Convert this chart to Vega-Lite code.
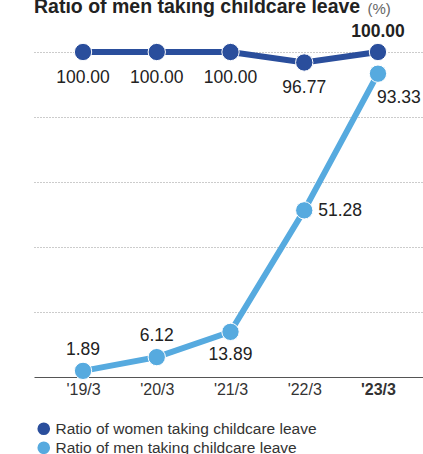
{
  "$schema": "https://vega.github.io/schema/vega-lite/v6.json",
  "autosize": "none",
  "width": 393,
  "height": 325,
  "padding": {"left": 34, "top": 52, "right": 0, "bottom": 77},
  "background": "white",
  "config": {
    "font": "Liberation Sans",
    "view": {"stroke": null}
  },
  "title": {
    "text": "Ratio of men taking childcare leave",
    "anchor": "start",
    "fontSize": 19.5,
    "fontWeight": "bold",
    "color": "#222222",
    "offset": 8,
    "dy": 24
  },
  "data": {
    "values": [
      {"year": "'19/3", "series": "Ratio of women taking childcare leave", "value": 100.00},
      {"year": "'20/3", "series": "Ratio of women taking childcare leave", "value": 100.00},
      {"year": "'21/3", "series": "Ratio of women taking childcare leave", "value": 100.00},
      {"year": "'22/3", "series": "Ratio of women taking childcare leave", "value": 96.77},
      {"year": "'23/3", "series": "Ratio of women taking childcare leave", "value": 100.00},
      {"year": "'19/3", "series": "Ratio of men taking childcare leave", "value": 1.89},
      {"year": "'20/3", "series": "Ratio of men taking childcare leave", "value": 6.12},
      {"year": "'21/3", "series": "Ratio of men taking childcare leave", "value": 13.89},
      {"year": "'22/3", "series": "Ratio of men taking childcare leave", "value": 51.28},
      {"year": "'23/3", "series": "Ratio of men taking childcare leave", "value": 93.33}
    ]
  },
  "encoding": {
    "x": {
      "field": "year",
      "type": "ordinal",
      "sort": null,
      "scale": {"type": "point", "padding": 0.665},
      "axis": {
        "title": null,
        "labelAngle": 0,
        "ticks": false,
        "domainColor": "#555555",
        "domainWidth": 1,
        "labelFontSize": 16,
        "labelColor": "#333333",
        "labelPadding": 4,
        "labelFontWeight": {"condition": {"test": "datum.value === \"'23/3\"", "value": "bold"}, "value": "normal"},
        "grid": false
      }
    },
    "y": {
      "field": "value",
      "type": "quantitative",
      "scale": {"domain": [0, 100], "nice": false},
      "axis": {
        "title": "(%)",
        "titleAngle": 0,
        "titleX": 333,
        "titleY": -39,
        "titleAlign": "left",
        "titleBaseline": "alphabetic",
        "titleFontSize": 15,
        "titleFontWeight": "normal",
        "titleColor": "#666666",
        "labels": false,
        "ticks": false,
        "domain": false,
        "grid": true,
        "values": [20, 40, 60, 80, 100],
        "gridColor": "#999999",
        "gridDash": [1, 2],
        "gridWidth": 1
      }
    },
    "color": {
      "field": "series",
      "type": "nominal",
      "scale": {
        "domain": ["Ratio of women taking childcare leave", "Ratio of men taking childcare leave"],
        "range": ["#2a4e9c", "#56aadf"]
      },
      "legend": {
        "title": null,
        "orient": "none",
        "legendX": 2,
        "legendY": 369,
        "direction": "vertical",
        "symbolType": "circle",
        "symbolSize": 160,
        "symbolStrokeWidth": 0,
        "symbolOpacity": 1,
        "labelFontSize": 15.5,
        "labelColor": "#333333",
        "labelOffset": 4,
        "labelLimit": 400,
        "rowPadding": 2,
        "padding": 0
      }
    }
  },
  "layer": [
    {
      "mark": {"type": "line", "strokeWidth": 6},
      "encoding": {"detail": {"field": "series"}}
    },
    {
      "mark": {"type": "point", "filled": true, "size": 300, "opacity": 1, "stroke": "white", "strokeWidth": 1}
    },
    {
      "transform": [{"filter": "datum.series === 'Ratio of women taking childcare leave' && datum.year !== \"'23/3\""}],
      "mark": {"type": "text", "fontSize": 17.5, "dy": 26},
      "encoding": {"text": {"field": "value", "format": ".2f"}, "color": {"value": "#222222"}}
    },
    {
      "transform": [{"filter": "datum.series === 'Ratio of women taking childcare leave' && datum.year === \"'23/3\""}],
      "mark": {"type": "text", "fontSize": 17.5, "fontWeight": "bold", "dy": -20},
      "encoding": {"text": {"field": "value", "format": ".2f"}, "color": {"value": "#222222"}}
    },
    {
      "transform": [{"filter": "datum.series === 'Ratio of men taking childcare leave' && (datum.year === \"'19/3\" || datum.year === \"'20/3\")"}],
      "mark": {"type": "text", "fontSize": 17.5, "dy": -21},
      "encoding": {"text": {"field": "value", "format": ".2f"}, "color": {"value": "#222222"}}
    },
    {
      "transform": [{"filter": "datum.series === 'Ratio of men taking childcare leave' && datum.year === \"'21/3\""}],
      "mark": {"type": "text", "fontSize": 17.5, "dy": 23},
      "encoding": {"text": {"field": "value", "format": ".2f"}, "color": {"value": "#222222"}}
    },
    {
      "transform": [{"filter": "datum.series === 'Ratio of men taking childcare leave' && datum.year === \"'22/3\""}],
      "mark": {"type": "text", "fontSize": 17.5, "align": "left", "dx": 14, "dy": 1},
      "encoding": {"text": {"field": "value", "format": ".2f"}, "color": {"value": "#222222"}}
    },
    {
      "transform": [{"filter": "datum.series === 'Ratio of men taking childcare leave' && datum.year === \"'23/3\""}],
      "mark": {"type": "text", "fontSize": 17.5, "align": "left", "dx": -1, "dy": 24},
      "encoding": {"text": {"field": "value", "format": ".2f"}, "color": {"value": "#222222"}}
    }
  ]
}
